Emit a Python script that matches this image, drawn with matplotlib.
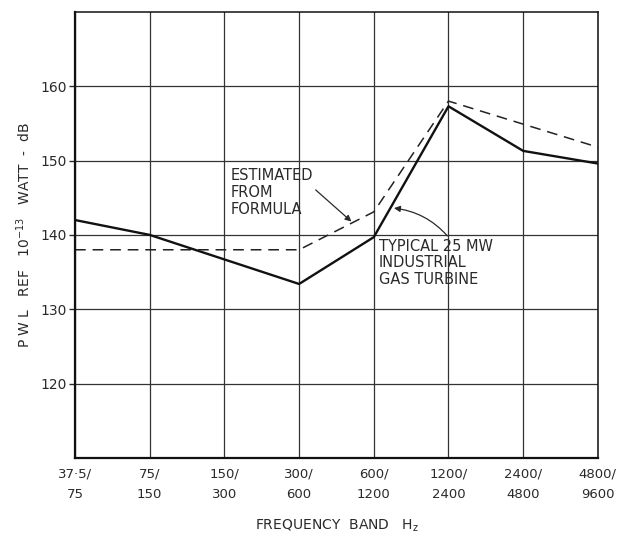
import matplotlib.pyplot as plt

# frequency bands (Hz), one per grid line
band_labels = ["37·5/\n75", "75/\n150", "150/\n300", "300/\n600",
               "600/\n1200", "1200/\n2400", "2400/\n4800", "4800/\n9600"]

# typical 25 MW industrial gas turbine (solid)
turbine_x = [0, 1, 3, 4, 5, 6, 7]
turbine_pwl = [142.0, 140.0, 133.4, 139.7, 157.3, 151.3, 149.6]

# estimated from formula (dashed)
formula_x = [0, 3, 4, 5, 7]
formula_pwl = [138.0, 138.0, 143.1, 158.0, 151.8]

ink = "#2a2a2a"
plt.rcParams['font.family'] = 'DejaVu Sans'

fig = plt.figure(figsize=(6.33, 5.4), dpi=100)
ax = fig.add_axes([0.1185, 0.152, 0.826, 0.826])

ax.plot(turbine_x, turbine_pwl, color="#111111", lw=1.7)
ax.plot(formula_x, formula_pwl, color="#222222", lw=1.1, linestyle=(0, (7, 4.5)))

ax.set_xlim(0, 7)
ax.set_ylim(110, 170)
ax.set_xticks(range(8))
ax.set_xticklabels(band_labels, fontsize=9.5, color=ink, linespacing=1.7)
ax.set_yticks(range(120, 161, 10))
ax.set_yticklabels(["120", "130", "140", "150", "160"], fontsize=10, color=ink)
ax.tick_params(axis='x', length=0, pad=7)
ax.tick_params(axis='y', length=4, width=1, color=ink, pad=2)
ax.grid(True, color="#333333", lw=0.9)
for side in ax.spines:
    ax.spines[side].set_color("#111111")
ax.spines['left'].set_linewidth(1.6)
ax.spines['bottom'].set_linewidth(1.6)
ax.spines['top'].set_linewidth(1.1)
ax.spines['right'].set_linewidth(1.1)

ax.set_ylabel("P W L   REF   10$^{-13}$   WATT  -  dB", fontsize=10, color=ink, labelpad=5)
ax.set_xlabel("FREQUENCY  BAND   H$_\\mathregular{z}$", fontsize=10, color=ink, labelpad=12)

ax.annotate("ESTIMATED\nFROM\nFORMULA", xy=(3.70, 141.8), xytext=(2.08, 149.0),
            fontsize=10.5, color=ink, va='top', ha='left', linespacing=1.15,
            arrowprops=dict(arrowstyle="-|>", color=ink, lw=0.9, mutation_scale=9,
                            shrinkA=0, shrinkB=0, relpos=(1.0, 0.6)))
ax.annotate("TYPICAL 25 MW\nINDUSTRIAL\nGAS TURBINE", xy=(4.27, 143.6), xytext=(4.07, 139.5),
            fontsize=10.5, color=ink, va='top', ha='left', linespacing=1.15,
            arrowprops=dict(arrowstyle="-|>", color=ink, lw=0.9, mutation_scale=9,
                            shrinkA=0, shrinkB=0, relpos=(0.62, 1.0),
                            connectionstyle="arc3,rad=0.2"))

fig.savefig("out.png", dpi=100, facecolor="white")
